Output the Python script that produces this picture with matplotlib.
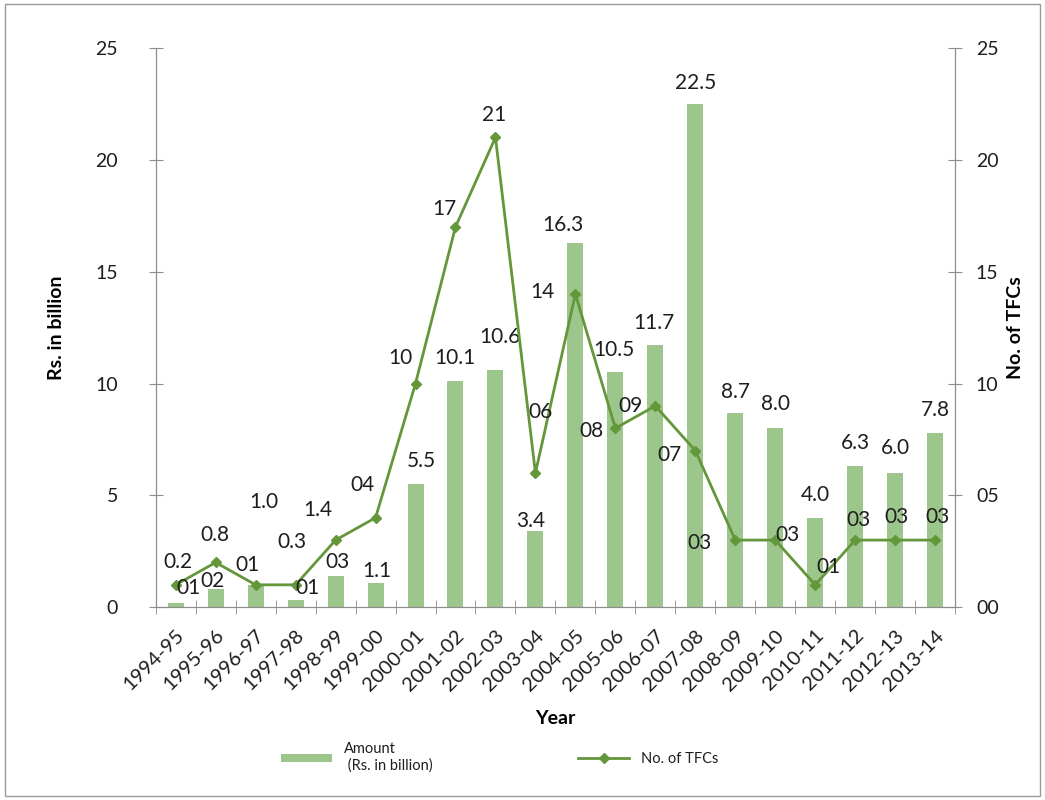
import matplotlib
matplotlib.use('Agg')
import numpy as np
import matplotlib.pyplot as plt
from matplotlib.patches import Rectangle

plt.rcParams['font.family'] = ['Lato', 'DejaVu Sans']

years = ['1994-95', '1995-96', '1996-97', '1997-98', '1998-99', '1999-00',
         '2000-01', '2001-02', '2002-03', '2003-04', '2004-05', '2005-06',
         '2006-07', '2007-08', '2008-09', '2009-10', '2010-11', '2011-12',
         '2012-13', '2013-14']
amount = [0.2, 0.8, 1.0, 0.3, 1.4, 1.1, 5.5, 10.1, 10.6, 3.4, 16.3, 10.5,
          11.7, 22.5, 8.7, 8.0, 4.0, 6.3, 6.0, 7.8]
tfcs = [1, 2, 1, 1, 3, 4, 10, 17, 21, 6, 14, 8, 9, 7, 3, 3, 1, 3, 3, 3]

# label offsets in pixels (dx, dy), hand-placed like the original
bar_off = [(2, 41), (-1, 54), (8, 83), (-4, 58), (-18, 66), (1, 12), (6, 23),
           (-1, 23), (4, 33), (-5, 10), (-13, 18), (-1, 22), (-1, 22), (0, 21),
           (0, 21), (0, 24), (0, 23), (0, 23), (0, 25), (0, 23)]
line_off = [(13, -3), (-3, -19), (-8, 20), (12, -3), (2, -22), (-13, 33),
            (-15, 26), (-11, 18), (-1, 22), (5, 61), (-33, 2), (-24, -3),
            (-25, 0), (-26, -4), (-36, -3), (12, 5), (13, 18), (3, 20),
            (1, 23), (2, 23)]

bar_color = '#9cc68c'
line_color = '#64963a'
axis_color = '#8c8c8c'
text_color = '#1e1e1e'

fig = plt.figure(figsize=(10.45, 8), dpi=100)
ax = fig.add_axes([0.149, 0.241, 0.765, 0.699])
ax2 = ax.twinx()

x = np.arange(len(years))
ax.bar(x, amount, width=0.4, color=bar_color, label='Amount\n (Rs. in billion)', zorder=2)
ax2.plot(x, tfcs, color=line_color, lw=2, marker='D', ms=5, label='No. of TFCs', zorder=3)

ax.set_xlim(-0.5, len(years) - 0.5)
ax.set_ylim(0, 25)
ax2.set_ylim(0, 25)
ax.set_yticks(range(0, 26, 5))
ax2.set_yticks(range(0, 26, 5))
ax2.set_yticklabels([f'{v:02d}' for v in range(0, 26, 5)])

ax.set_xticks(x)
ax.set_xticklabels(years, rotation=45, ha='right', rotation_mode='anchor')
ax.set_xticks(np.arange(-0.5, len(years), 1), minor=True)
ax.tick_params(axis='x', which='major', length=0, pad=14, labelsize=14.5, labelcolor=text_color)
ax.tick_params(axis='x', which='minor', direction='inout', length=10, color=axis_color)
ax.tick_params(axis='y', direction='inout', length=10, color=axis_color, labelsize=14,
               pad=22, labelcolor=text_color)
ax2.tick_params(axis='y', direction='inout', length=10, color=axis_color, labelsize=14,
                pad=10, labelcolor=text_color)

for a in (ax, ax2):
    a.spines['top'].set_visible(False)
    for s in ('left', 'right', 'bottom'):
        a.spines[s].set_color(axis_color)

ax.set_ylabel('Rs. in billion', fontsize=14, fontweight='bold', labelpad=22)
ax2.set_ylabel('No. of TFCs', fontsize=14, fontweight='bold', labelpad=6)
ax.set_xlabel('Year', fontsize=14, fontweight='bold', labelpad=12)

for i, v in enumerate(amount):
    dx, dy = bar_off[i]
    ax.annotate(f'{v:.1f}', (x[i], v), xytext=(dx, dy), textcoords='offset pixels',
                ha='center', va='center', fontsize=15, color=text_color, zorder=5)
for i, v in enumerate(tfcs):
    dx, dy = line_off[i]
    ax2.annotate(f'{v:02d}', (x[i], v), xytext=(dx, dy), textcoords='offset pixels',
                 ha='center', va='center', fontsize=15, color=text_color, zorder=5)

h1, l1 = ax.get_legend_handles_labels()
h2, l2 = ax2.get_legend_handles_labels()
fig.legend(h1 + h2, l1 + l2, loc='center', bbox_to_anchor=(0.478, 0.053), ncol=2,
           frameon=False, fontsize=10.5, columnspacing=10, handlelength=3.5,
           handleheight=0.5, labelcolor=text_color)

fig.patches.append(Rectangle((0.005, 0.005), 0.99, 0.99, transform=fig.transFigure,
                             fill=False, edgecolor='#999999', lw=1))

fig.savefig('out.png', dpi=100)
